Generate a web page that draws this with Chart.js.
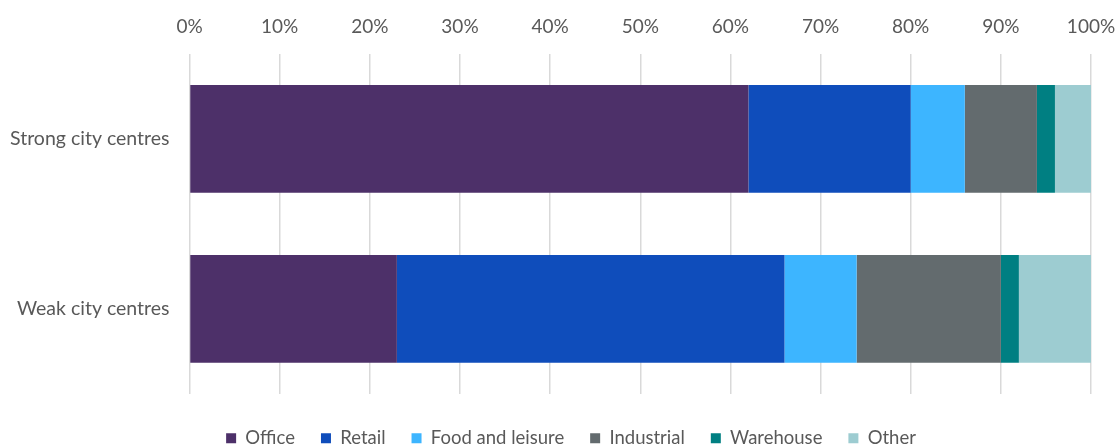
<!DOCTYPE html>
<html>
<head>
<meta charset="utf-8">
<script src="https://cdn.jsdelivr.net/npm/chart.js@4/dist/chart.umd.min.js"></script>
<style>
  html, body { margin: 0; padding: 0; background: #ffffff; }
  #wrap { width: 1118px; height: 444px; position: relative; }
</style>
</head>
<body>
<div id="wrap"><canvas id="chart"></canvas></div>
<script>
// City-centre land use mix, share of floorspace (%)
const categories = ['Strong city centres', 'Weak city centres'];
const seriesNames = ['Office', 'Retail', 'Food and leisure', 'Industrial', 'Warehouse', 'Other'];
const office      = [62, 23];
const retail      = [18, 43];
const foodLeisure = [6, 8];
const industrial  = [8, 16];
const warehouse   = [2, 2];
const other       = [4, 8];
const seriesColors = ['#4d3069', '#0f4dbb', '#3db5ff', '#636b6e', '#007f82', '#9dccd1'];

const seriesValues = [office, retail, foodLeisure, industrial, warehouse, other];
const FONT = 'Lato, "Open Sans", sans-serif';
const TEXT = '#595959';

new Chart(document.getElementById('chart'), {
  type: 'bar',
  data: {
    labels: categories,
    datasets: seriesNames.map((name, i) => ({
      label: name,
      data: seriesValues[i],
      backgroundColor: seriesColors[i],
      borderWidth: 0,
      categoryPercentage: 0.633,
      barPercentage: 1.0
    }))
  },
  options: {
    indexAxis: 'y',
    responsive: true,
    maintainAspectRatio: false,
    animation: false,
    layout: { padding: { left: -10, right: -34, top: -1, bottom: -13.5 } },
    scales: {
      x: {
        position: 'top',
        stacked: true,
        min: 0,
        max: 100,
        ticks: {
          stepSize: 10,
          color: TEXT,
          font: { family: FONT, size: 19 },
          padding: 16,
          callback: v => v + '%'
        },
        grid: { color: '#d9d9d9', lineWidth: 1.5, drawTicks: false },
        border: { display: false },
        // keep the right margin tight: only half of the "100%" label overhangs
        afterFit: scale => { scale.paddingRight = 27; }
      },
      y: {
        stacked: true,
        ticks: {
          color: TEXT,
          font: { family: FONT, size: 19.5 },
          padding: 20
        },
        grid: { display: false, drawTicks: false },
        border: { display: false }
      }
    },
    plugins: {
      legend: {
        position: 'bottom',
        title: { display: true, text: '', padding: 0, font: { size: 7.5, lineHeight: 1.2 } },
        labels: {
          color: TEXT,
          font: { family: FONT, size: 18.5 },
          boxWidth: 10,
          boxHeight: 10,
          padding: 26
        }
      },
      tooltip: { enabled: false }
    }
  }
});
</script>
</body>
</html>
